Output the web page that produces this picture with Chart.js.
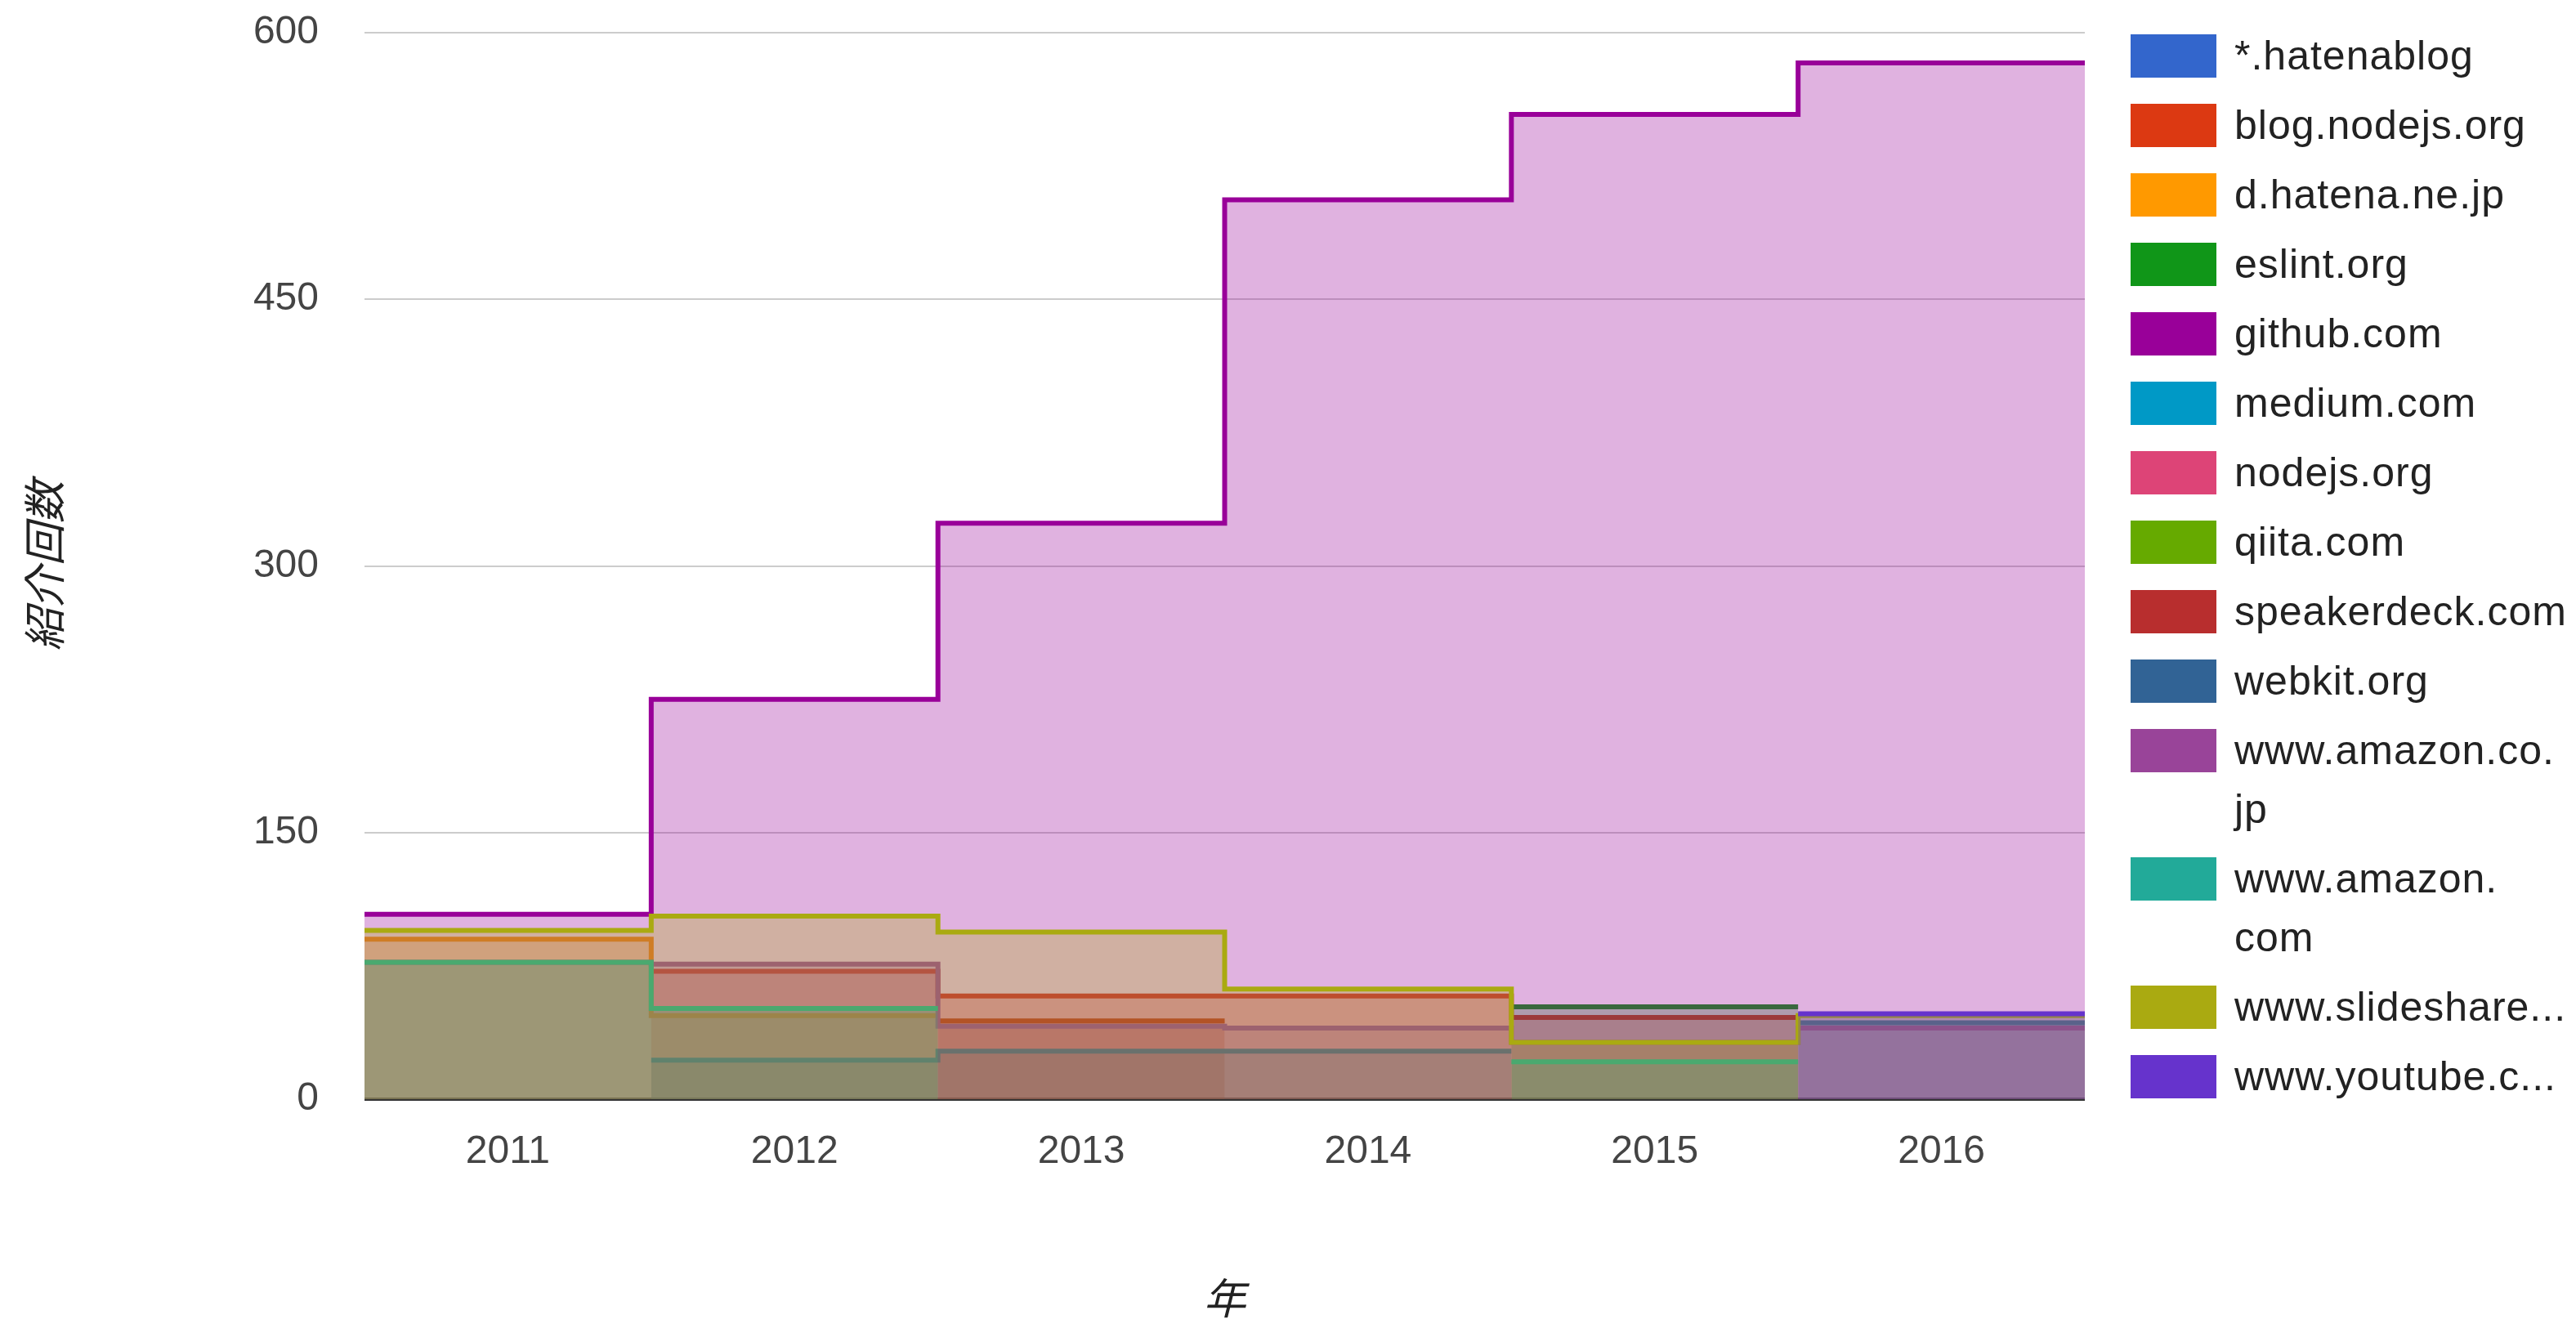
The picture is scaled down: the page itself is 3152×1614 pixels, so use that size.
<!DOCTYPE html>
<html>
<head>
<meta charset="utf-8">
<script src="https://cdn.jsdelivr.net/npm/chart.js@4.4.1/dist/chart.umd.min.js"></script>
<style>
  html, body { margin: 0; padding: 0; background: #fff; }
  .wrap { position: relative; width: 3152px; height: 1614px; }
  #legend {
    position: absolute; left: 2607px; top: 32px; margin: 0; padding: 0; list-style: none;
    font-family: 'Liberation Sans', Arial, sans-serif; font-size: 50px; line-height: 72px;
    color: #222; letter-spacing: 1px;
  }
  #legend li { display: flex; align-items: flex-start; margin-bottom: 13px; }
  #legend .box { width: 105px; height: 53px; margin: 10px 22px 0 0; flex: none; }
  #legend .txt { white-space: pre; }
</style>
</head>
<body>
<div class="wrap">
  <canvas id="steps"></canvas>
  <ul id="legend"></ul>
</div>
<script>
// Data

const years = ['2011', '2012', '2013', '2014', '2015', '2016'];

const seriesNames = [
  '*.hatenablog', 'blog.nodejs.org', 'd.hatena.ne.jp', 'eslint.org', 'github.com',
  'medium.com', 'nodejs.org', 'qiita.com', 'speakerdeck.com', 'webkit.org',
  'www.amazon.co.\njp', 'www.amazon.\ncom', 'www.slideshare...', 'www.youtube.c...'
];

const seriesColors = [
  '#3366cc', '#dc3912', '#ff9900', '#109618', '#990099',
  '#0099c6', '#dd4477', '#66aa00', '#b82e2e', '#316395',
  '#994499', '#22aa99', '#aaaa11', '#6633cc'
];

const hatenablog   = [null, null, null, null, null, null];
const blogNodejs   = [null, 72, 58, 58, 46, null];
const dHatena      = [90, 47, null, null, null, null];
const eslint       = [null, null, null, null, 52, null];
const github       = [104, 225, 324, 506, 554, 583];
const medium       = [null, null, null, null, null, null];
const nodejsOrg    = [null, null, null, null, null, null];
const qiita        = [null, null, null, null, null, null];
const speakerdeck  = [null, null, 44, null, null, null];
const webkit       = [null, 22, 27, 27, null, 43];
const amazonCoJp   = [77, 76, 41, 40, 32, 40];
const amazonCom    = [77, 51, null, null, 21, null];
const slideshare   = [95, 103, 94, 62, 32, 47];
const youtube      = [null, null, null, null, null, 48];

const seriesValues = [
  hatenablog, blogNodejs, dHatena, eslint, github, medium, nodejsOrg,
  qiita, speakerdeck, webkit, amazonCoJp, amazonCom, slideshare, youtube
];

const yTicks = [0, 150, 300, 450, 600];

// Helpers

function withAlpha(hex, a) {
  const n = parseInt(hex.slice(1), 16);
  return 'rgba(' + (n >> 16) + ',' + ((n >> 8) & 255) + ',' + (n & 255) + ',' + a + ')';
}

// every year covers its whole band: a point at its start and one at its end
function stepPoints(values) {
  const pts = [];
  values.forEach((v, i) => {
    pts.push({ x: i, y: v });
    pts.push({ x: i + 1, y: v });
  });
  return pts;
}

// Chart

Chart.defaults.font.family = "'Liberation Sans', Arial, sans-serif";

const datasets = seriesValues.map((vals, i) => ({
  label: seriesNames[i].replace('\n', ''),
  data: stepPoints(vals),
  borderColor: seriesColors[i],
  backgroundColor: withAlpha(seriesColors[i], 0.3),
  borderWidth: 6,
  fill: 'origin',
  pointRadius: 0,
  tension: 0,
  spanGaps: false,
  borderJoinStyle: 'miter',
  order: -i
}));

const stepChart = new Chart(document.querySelector('#steps'), {
  type: 'line',
  data: { datasets: datasets },
  options: {
    responsive: true,
    maintainAspectRatio: false,
    animation: false,
    layout: { padding: { top: 40, right: 601, bottom: 0, left: 0 } },
    plugins: {
      legend: { display: false },
      tooltip: { enabled: false }
    },
    scales: {
      x: {
        type: 'linear',
        min: 0,
        max: years.length,
        grid: { display: false, drawTicks: false },
        border: { display: false },
        afterBuildTicks: (scale) => {
          scale.ticks = years.map((y, i) => ({ value: i + 0.5 }));
        },
        afterFit: (scale) => {
          scale.height = 269;
          scale.paddingLeft = 0;
          scale.paddingRight = 0;
        },
        ticks: {
          autoSkip: false,
          maxRotation: 0,
          padding: 36,
          color: '#444',
          font: { size: 48 },
          callback: (v) => years[Math.floor(v)]
        },
        title: {
          display: true,
          text: '年',
          color: '#222',
          padding: { top: 0, bottom: 0 },
          font: { size: 52, style: 'italic', lineHeight: 1, family: "'Noto Sans CJK JP', sans-serif" }
        }
      },
      y: {
        min: 0,
        max: 600,
        afterBuildTicks: (scale) => {
          scale.ticks = yTicks.map(v => ({ value: v }));
        },
        afterFit: (scale) => {
          scale.width = 446;
          scale.paddingTop = 0;
          scale.paddingBottom = 0;
        },
        grid: {
          drawTicks: false,
          color: (ctx) => ctx.tick.value === 0 ? '#333' : '#cccccc',
          lineWidth: (ctx) => ctx.tick.value === 0 ? 4 : 2
        },
        border: { display: false },
        ticks: {
          padding: 56,
          color: '#444',
          font: { size: 48 }
        },
        title: {
          display: true,
          text: '紹介回数',
          color: '#222',
          padding: { top: 28, bottom: 0 },
          font: { size: 52, style: 'italic', lineHeight: 1, family: "'Noto Sans CJK JP', sans-serif" }
        }
      }
    }
  }
});

// Legend

const legend = document.querySelector('#legend');

seriesNames.forEach((name, i) => {
  const li = document.createElement('li');
  const box = document.createElement('span');
  box.className = 'box';
  box.style.background = seriesColors[i];
  const txt = document.createElement('span');
  txt.className = 'txt';
  txt.textContent = name;
  li.appendChild(box);
  li.appendChild(txt);
  legend.appendChild(li);
});
</script>
</body>
</html>
